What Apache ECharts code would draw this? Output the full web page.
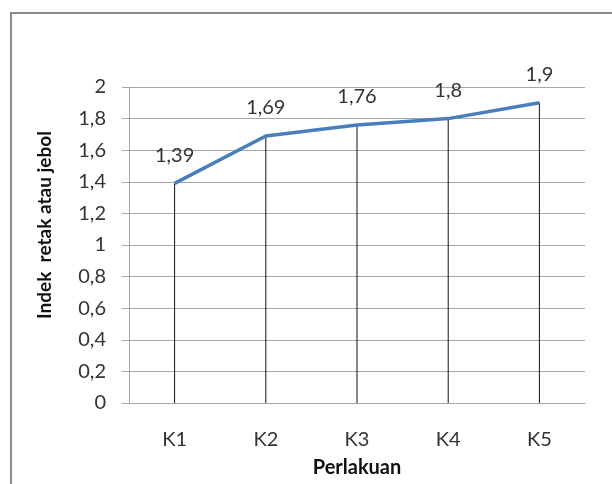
<!DOCTYPE html>
<html>
<head>
<meta charset="utf-8">
<script src="https://cdn.jsdelivr.net/npm/echarts@6/dist/echarts.min.js"></script>
<style>
  html, body { margin: 0; padding: 0; background: #fff; }
  #chart { width: 612px; height: 484px; }
</style>
</head>
<body>
<div id="chart"></div>
<script>
  // data
  var categories = ['K1', 'K2', 'K3', 'K4', 'K5']
  var values = [1.39, 1.69, 1.76, 1.8, 1.9]
  var yTicks = { min: 0, max: 2, interval: 0.2 }

  var font = 'Lato, "Open Sans", sans-serif'
  // comma as decimal separator
  function comma(v) {
    return String(+v.toFixed(2)).replace('.', ',')
  }

  var chart = echarts.init(document.getElementById('chart'))
  var option = {
    backgroundColor: '#fff',
    animation: false,
    textStyle: { fontFamily: font },
    graphic: [{
      type: 'rect',
      shape: { x: 11, y: 13, width: 640, height: 520 },
      style: { fill: 'none', stroke: '#8c8c8c', lineWidth: 2 },
      silent: true
    }],
    grid: { left: 129, right: 27, top: 87, bottom: 81 },
    xAxis: {
      type: 'category',
      data: categories,
      boundaryGap: true,
      name: 'Perlakuan',
      nameLocation: 'middle',
      nameGap: 55,
      nameTextStyle: { fontSize: 20, fontWeight: 'bold', color: '#111', fontFamily: font },
      axisLine: { lineStyle: { color: '#a6a6a6', width: 1 } },
      axisTick: { show: false },
      axisLabel: { fontSize: 20, color: '#333', margin: 27, fontFamily: font }
    },
    yAxis: {
      type: 'value',
      min: yTicks.min,
      max: yTicks.max,
      interval: yTicks.interval,
      name: 'Indek  retak atau jebol',
      nameLocation: 'middle',
      nameGap: 75,
      nameRotate: 90,
      nameTextStyle: {
        fontSize: 19, fontWeight: 'bold', color: '#111', fontFamily: font,
        padding: [0, 0, 0, 40]
      },
      axisLine: { show: true, lineStyle: { color: '#a6a6a6', width: 1 } },
      axisTick: { show: true, length: 7, lineStyle: { color: '#a6a6a6' } },
      splitLine: { lineStyle: { color: '#a6a6a6', width: 1 } },
      axisLabel: {
        fontSize: 20, color: '#333', margin: 23, fontFamily: font,
        formatter: function (v) { return comma(v) }
      }
    },
    series: [{
      // vertical drop lines from each point to the axis, carrying the value labels
      type: 'bar',
      data: values,
      barWidth: 1,
      itemStyle: { color: '#111' },
      silent: true,
      z: 1,
      label: {
        show: true,
        position: 'top',
        distance: 18,
        fontSize: 20,
        color: '#333',
        fontFamily: font,
        formatter: function (p) { return comma(p.value) }
      }
    }, {
      type: 'line',
      data: values,
      symbol: 'none',
      lineStyle: { color: '#4a7ebb', width: 3.5 },
      z: 3
    }]
  }
  chart.setOption(option)
</script>
</body>
</html>
